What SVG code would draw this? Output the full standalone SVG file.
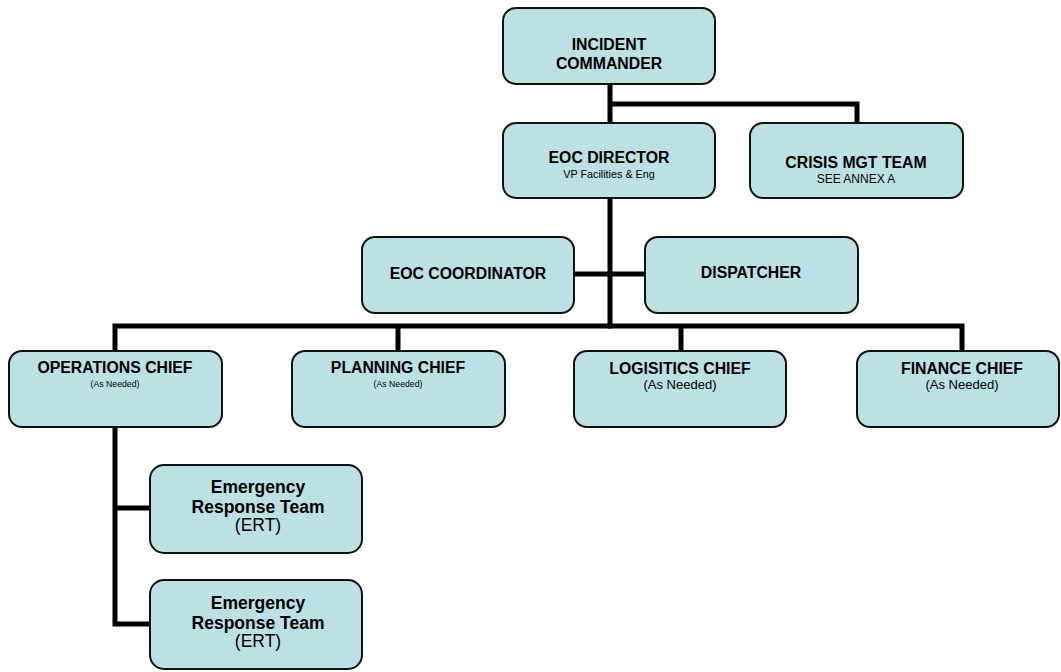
<svg xmlns="http://www.w3.org/2000/svg" width="1061" height="672" viewBox="0 0 1061 672">
<style>
.box{fill:#bce0e3;stroke:#111;stroke-width:2}
.t{font-family:"Liberation Sans",Arial,sans-serif;font-weight:bold;font-size:15.8px;fill:#000;text-anchor:middle}
.s{font-family:"Liberation Sans",Arial,sans-serif;fill:#000;text-anchor:middle}
.e{font-family:"Liberation Sans",Arial,sans-serif;font-size:17.5px;fill:#000;text-anchor:middle}
.c{fill:none;stroke:#000;stroke-width:5;stroke-linecap:square}
</style>
<rect width="1061" height="672" fill="#fff"/>
<g id="connectors">
<path class="c" d="M610 84V123M610 104H857V123"/>
<path class="c" d="M610 198V326M574 274H645"/>
<path class="c" d="M115 326H962M115 326V351M398 326V351M681 326V351M962 326V351"/>
<path class="c" d="M115 427V624H150M115 508H150"/>
</g>
<g id="incident-commander">
<rect class="box" x="503" y="8" width="212" height="76" rx="13"/>
<text class="t" x="609" y="50">INCIDENT</text>
<text class="t" x="609" y="69">COMMANDER</text>
</g>
<g id="eoc-director">
<rect class="box" x="503" y="123" width="212" height="75" rx="13"/>
<text class="t" x="609" y="163">EOC DIRECTOR</text>
<text class="s" x="609" y="178" font-size="10.8">VP Facilities &amp; Eng</text>
</g>
<g id="crisis-mgt-team">
<rect class="box" x="750" y="123" width="213" height="75" rx="13"/>
<text class="t" x="856" y="168">CRISIS MGT TEAM</text>
<text class="s" x="856" y="183" font-size="12">SEE ANNEX A</text>
</g>
<g id="eoc-coordinator">
<rect class="box" x="362" y="237" width="212" height="76" rx="13"/>
<text class="t" x="468" y="279">EOC COORDINATOR</text>
</g>
<g id="dispatcher">
<rect class="box" x="645" y="237" width="213" height="76" rx="13"/>
<text class="t" x="751" y="278">DISPATCHER</text>
</g>
<g id="operations-chief">
<rect class="box" x="9" y="351" width="213" height="76" rx="13"/>
<text class="t" x="115" y="373">OPERATIONS CHIEF</text>
<text class="s" x="115" y="387" font-size="8.7">(As Needed)</text>
</g>
<g id="planning-chief">
<rect class="box" x="292" y="351" width="213" height="76" rx="13"/>
<text class="t" x="398" y="373">PLANNING CHIEF</text>
<text class="s" x="398" y="387" font-size="8.7">(As Needed)</text>
</g>
<g id="logistics-chief">
<rect class="box" x="574" y="351" width="212" height="76" rx="13"/>
<text class="t" x="680" y="374">LOGISITICS CHIEF</text>
<text class="s" x="680" y="389" font-size="13">(As Needed)</text>
</g>
<g id="finance-chief">
<rect class="box" x="857" y="351" width="202" height="76" rx="13"/>
<text class="t" x="962" y="374">FINANCE CHIEF</text>
<text class="s" x="962" y="389" font-size="13">(As Needed)</text>
</g>
<g id="ert-1">
<rect class="box" x="150" y="465" width="212" height="88" rx="14"/>
<text class="e" x="258" y="493" font-weight="bold">Emergency</text>
<text class="e" x="258" y="513" font-weight="bold">Response Team</text>
<text class="e" x="258" y="531">(ERT)</text>
</g>
<g id="ert-2">
<rect class="box" x="150" y="580" width="212" height="89" rx="14"/>
<text class="e" x="258" y="609" font-weight="bold">Emergency</text>
<text class="e" x="258" y="629" font-weight="bold">Response Team</text>
<text class="e" x="258" y="647">(ERT)</text>
</g>
</svg>
